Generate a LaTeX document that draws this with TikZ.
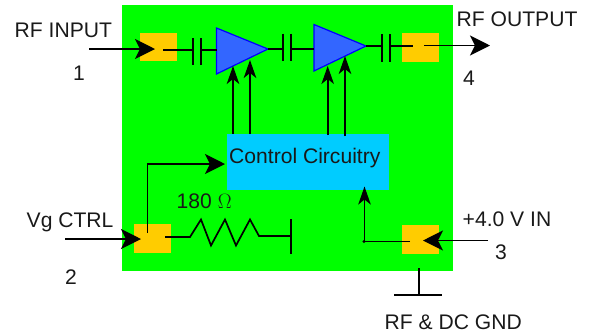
\documentclass[tikz,border=0pt]{standalone}
\usepackage{fontspec}
\setmainfont{Liberation Sans}
\usepackage{xcolor}
\definecolor{board}{HTML}{00FF00}
\definecolor{padcol}{HTML}{FFCC00}
\definecolor{ctrlcol}{HTML}{00CCFF}
\definecolor{ampcol}{HTML}{3366FF}
\usetikzlibrary{arrows.meta}
\tikzset{
	wire/.style={line width=1.7pt},
	sig/.style={wire,-{Stealth[length=20pt,width=20pt,inset=5pt]}},
	sigup/.style={wire,-{Stealth[length=18pt,width=12.5pt,inset=5pt]}},
	padbox/.style={fill=padcol,minimum width=37pt,minimum height=28.5pt,inner sep=0pt},
	ampshape/.style={fill=ampcol,draw=blue,line width=1.2pt,line join=miter},
	lab/.style={inner sep=0pt,font=\fontsize{21.1}{24}\selectfont,text=black!90}
}
\begin{document}
\begin{tikzpicture}[x=1pt,y=-1pt]
	\useasboundingbox (0,0) rectangle (592,333);
	% draw board
	\fill[board] (122,5) rectangle (453.3,271);
	
	% draw pads
	\node[padbox] (pad1) at (158,47.2) {};
	\node[padbox] (pad4) at (420.5,47.7) {};
	\node[padbox] (pad2) at (152.5,238.5) {};
	\node[padbox] (pad3) at (420.5,239.7) {};
	\node[fill=ctrlcol,minimum width=161.5pt,minimum height=56.5pt,inner sep=0pt] (ctrl) at (308.2,161.8) {};
	
	% draw amplifiers
	\draw[ampshape] (216.5,28) coordinate (ampAa) -- (268,49) coordinate (ampAo) -- (216.5,74) coordinate (ampAb) -- cycle;
	\draw[ampshape] (314,24.5) coordinate (ampBa) -- (366,46) coordinate (ampBo) -- (314,71) coordinate (ampBb) -- cycle;
	\coordinate (ampAi) at (216.5,50);
	\coordinate (ampBi) at (314,49);
	
	% rf input side
	\coordinate (rfin) at (89,49);
	\coordinate (rfinT) at (155,49);
	\coordinate (rfinS) at (163,50);
	\draw[sig] (rfin) -- (rfinT);
	\draw[wire] (rfinS) -- (193,50) coordinate (capAa);
	\draw[wire] (193,38) -- (193,65);
	\draw[wire] (201,38) -- (201,65);
	\draw[wire] (201,50) coordinate (capAb) -- (ampAi);
	
	% between amps
	\draw[wire] (ampAo) -- (283,49) coordinate (capBa);
	\draw[wire] (283,33.5) -- (283,61);
	\draw[wire] (291,33.5) -- (291,61);
	\draw[wire] (291,49) coordinate (capBb) -- (ampBi);
	
	% rf output side
	\draw[wire] (ampBo) -- (382,46) coordinate (capCa);
	\draw[wire] (382,34) -- (382,62);
	\draw[wire] (390,34) -- (390,62);
	\coordinate (rfoutS) at (413,46);
	\draw[wire] (390,46) coordinate (capCb) -- (rfoutS);
	\coordinate (rfoutA) at (424,45.5);
	\coordinate (rfout) at (490,45.5);
	\draw[sig] (rfoutA) -- (rfout);
	
	% control lines
	\draw[sigup] (233,133.5) coordinate (ctrlA) -- (233,66);
	\draw[sigup] (250,133.5) coordinate (ctrlB) -- (250,60);
	\draw[sigup] (327.7,135) coordinate (ctrlC) -- (327.7,66);
	\draw[sigup] (345,136) coordinate (ctrlD) -- (345,56);
	
	% vg ctrl
	\coordinate (vgin) at (65,239);
	\draw[sig] (vgin) -- (141,239);
	\draw[sig] (147.5,233) coordinate (vgup) -- (147.5,164) -- (225,164);
	\draw[wire,line join=miter] (165,237) coordinate (resin) -- (190,237) -- (201,219.5) -- (211,245.5) -- (225,219.5) -- (236,245.5) -- (250,219.5) -- (259,236) -- (290.7,236) coordinate (resend);
	\draw[wire] (290.7,219) -- (290.7,254);
	
	% supply
	\coordinate (vin) at (488,240.5);
	\draw[sig] (vin) -- (423,240.5);
	\draw[sigup] (410,241.5) coordinate (vsup) -- (364.5,241.5) -- (364.5,186.5);
	\fill (364,241.5) circle (1.6pt);
	
	% ground
	\draw[wire] (418.7,268) coordinate (gndA) -- (418.7,295) coordinate (gndB);
	\draw[wire] (394,295) -- (442,295);
	
	% draw labels
	\node[lab,anchor=west] (lbin) at (14.5,30.5) {RF INPUT};
	\node[lab] (lbone) at (79,73.5) {1};
	\node[lab,anchor=west] (lbout) at (456.5,19.5) {RF OUTPUT};
	\node[lab] (lbfour) at (469,78.5) {4};
	\node[lab,anchor=west] (lbctrl) at (229,158) {Control Circuitry};
	\node[lab,anchor=west] (lbres) at (176.5,201) {180 $\Omega$};
	\node[lab,anchor=west] (lbvg) at (26.5,222) {Vg CTRL};
	\node[lab] (lbtwo) at (71,277) {2};
	\node[lab,anchor=west] (lbvin) at (462.5,219) {+4.0 V IN};
	\node[lab] (lbthree) at (501,252.5) {3};
	\node[lab,anchor=west] (lbgnd) at (384.5,322) {RF \& DC GND};
\end{tikzpicture}
\end{document}
